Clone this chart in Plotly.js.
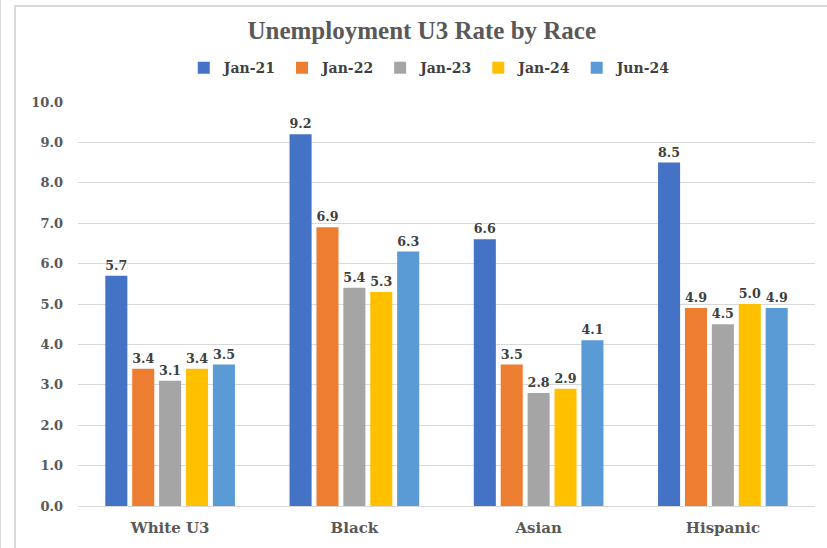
<!DOCTYPE html>
<html><head><meta charset="utf-8">
<script src="https://cdn.plot.ly/plotly-3.0.1.min.js"></script>
<style>
html,body{margin:0;padding:0;background:#fff;}
#wrap{position:relative;width:827px;height:548px;overflow:hidden;}
#chart{position:absolute;left:0;top:0;width:827px;height:548px;}
#b1{position:absolute;left:0;top:0;width:1px;height:548px;background:#d9d9d9;}
#b2{position:absolute;left:14px;top:5px;width:813px;height:543px;border-left:2px solid #d9d9d9;border-top:2px solid #d9d9d9;}
</style></head>
<body><div id="wrap"><div id="b1"></div><div id="b2"></div><div id="chart"></div></div>
<script>
const categories = ["White U3", "Black", "Asian", "Hispanic"];
const seriesNames = ["Jan-21", "Jan-22", "Jan-23", "Jan-24", "Jun-24"];
const jan21 = [5.7, 9.2, 6.6, 8.5];
const jan22 = [3.4, 6.9, 3.5, 4.9];
const jan23 = [3.1, 5.4, 2.8, 4.5];
const jan24 = [3.4, 5.3, 2.9, 5.0];
const jun24 = [3.5, 6.3, 4.1, 4.9];
const yTicks = [0,1,2,3,4,5,6,7,8,9,10];

const values = [jan21, jan22, jan23, jan24, jun24];
const colors = ["#4472C4", "#ED7D31", "#A5A5A5", "#FFC000", "#5B9BD5"];
const serif = "DejaVu Serif";
const traces = values.map((v, i) => ({
  type: "bar", name: seriesNames[i], x: categories, y: v,
  marker: {color: colors[i]},
  texttemplate: "%{y:.1f}", textposition: "outside", cliponaxis: false,
  textfont: {family: serif, size: 13, color: "#404040", weight: "bold"},
  hoverinfo: "none"
}));
const layout = {
  width: 827, height: 548,
  margin: {l: 78, r: 12, t: 102, b: 42},
  paper_bgcolor: "rgba(0,0,0,0)", plot_bgcolor: "rgba(0,0,0,0)",
  barmode: "group", bargap: 0.27, bargroupgap: 0.18,
  title: {text: "Unemployment U3 Rate by Race", x: 0.51, xanchor: "center", y: 0.945, yanchor: "middle",
    font: {family: "Liberation Serif", size: 25, color: "#595959", weight: "bold"}},
  showlegend: true,
  legend: {orientation: "h", x: 0.478, xanchor: "center", y: 1.084, yanchor: "middle",
    font: {family: serif, size: 14, color: "#404040", weight: "bold"}, itemwidth: 30, traceorder: "normal"},
  xaxis: {showgrid: false, showline: true, linecolor: "#d9d9d9", linewidth: 1, ticks: "",
    ticklabelstandoff: 8,
    tickfont: {family: serif, size: 15, color: "#595959", weight: "bold"}},
  yaxis: {range: [0, 10], tickvals: yTicks, tickformat: ".1f", showgrid: true, gridcolor: "#d9d9d9",
    zeroline: false, showline: false, ticks: "", ticklen: 0, ticklabelstandoff: 14,
    tickfont: {family: serif, size: 13, color: "#595959", weight: "bold"}}
};
Plotly.newPlot("chart", traces, layout, {displayModeBar: false, staticPlot: true});
</script></body></html>
